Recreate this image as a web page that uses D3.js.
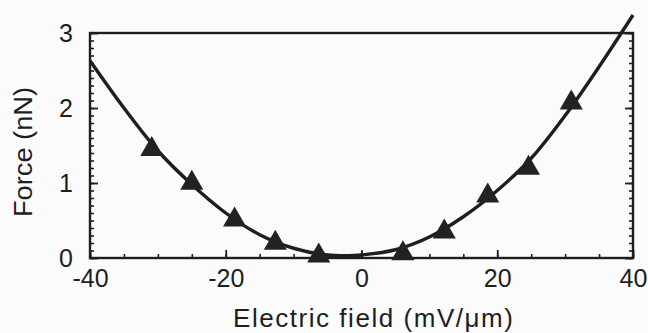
<!DOCTYPE html>
<html>
<head>
<meta charset="utf-8">
<script src="https://cdn.jsdelivr.net/npm/d3@7"></script>
<style>
  html, body { margin: 0; padding: 0; background: #fbfbfb; }
  svg { display: block; }
  text { font-family: "Liberation Sans", Arial, sans-serif; fill: #1e1e1e; }
</style>
</head>
<body>
<div id="chart"></div>
<script>
// measured points (triangles)
const fieldPts = [-30.9, -25, -18.7, -12.7, -6.3, 6.1, 12.2, 18.6, 24.6, 30.9];
const forcePts = [1.45, 1.0, 0.51, 0.2, 0.03, 0.06, 0.35, 0.83, 1.2, 2.07];

// fitted curve
const fitField = [-40, -35, -30, -25, -20, -15, -10, -5, -2, 0, 5, 10, 15, 20, 25, 30, 35, 40];
const fitForce = [2.63, 2.0, 1.43, 0.98, 0.6, 0.31, 0.13, 0.04, 0.03, 0.04, 0.11, 0.28, 0.55, 0.9, 1.33, 1.9, 2.55, 3.24];

const xTicks = [-40, -20, 0, 20, 40];
const yTicks = [0, 1, 2, 3];

const W = 648, H = 333;
const margin = { left: 90, top: 33, right: 15, bottom: 75 };
const width = W - margin.left - margin.right;
const height = H - margin.top - margin.bottom;

const svg = d3.select('div#chart').append('svg')
  .attr('width', W)
  .attr('height', H);

const chart = svg.append('g')
  .attr('transform', `translate(${margin.left}, ${margin.top})`);

const x = d3.scaleLinear().domain([-40, 40]).range([0, width]);
const y = d3.scaleLinear().domain([0, 3]).range([height, 0]);

// plain hyphen minus like the original
const fmt = d => String(d);

// minor ticks, all pointing inward
const xMinor = d3.range(-40, 40.01, 5);
const yMinor = d3.range(0, 3.001, 0.1);

chart.append('g')
  .attr('transform', `translate(0, ${height})`)
  .call(d3.axisBottom(x).tickValues(xMinor).tickSize(-4).tickFormat(''))
  .call(g => g.select('.domain').remove())
  .call(g => g.selectAll('line').attr('stroke', '#1e1e1e').attr('stroke-width', 1.6));

chart.append('g')
  .attr('transform', `translate(0, ${height})`)
  .call(d3.axisBottom(x).tickValues(xTicks).tickSize(-8).tickPadding(11).tickFormat(fmt))
  .call(g => g.select('.domain').remove())
  .call(g => g.selectAll('line').attr('stroke', '#1e1e1e').attr('stroke-width', 1.8))
  .call(g => g.selectAll('text').attr('font-size', 25).attr('fill', '#1e1e1e'));

chart.append('g')
  .call(d3.axisLeft(y).tickValues(yMinor).tickSize(-4).tickFormat(''))
  .call(g => g.select('.domain').remove())
  .call(g => g.selectAll('line').attr('stroke', '#1e1e1e').attr('stroke-width', 1.6));

chart.append('g')
  .call(d3.axisLeft(y).tickValues(yTicks).tickSize(-8).tickPadding(17).tickFormat(fmt))
  .call(g => g.select('.domain').remove())
  .call(g => g.selectAll('line').attr('stroke', '#1e1e1e').attr('stroke-width', 1.8))
  .call(g => g.selectAll('text').attr('font-size', 25).attr('fill', '#1e1e1e'));

chart.append('g')
  .attr('transform', `translate(${width}, 0)`)
  .call(d3.axisRight(y).tickValues(yMinor).tickSize(-4).tickFormat(''))
  .call(g => g.select('.domain').remove())
  .call(g => g.selectAll('line').attr('stroke', '#1e1e1e').attr('stroke-width', 1.6));

chart.append('g')
  .attr('transform', `translate(${width}, 0)`)
  .call(d3.axisRight(y).tickValues(yTicks).tickSize(-8).tickFormat(''))
  .call(g => g.select('.domain').remove())
  .call(g => g.selectAll('line').attr('stroke', '#1e1e1e').attr('stroke-width', 1.8));

// frame
chart.append('rect')
  .attr('x', 0).attr('y', 0)
  .attr('width', width).attr('height', height)
  .attr('fill', 'none')
  .attr('stroke', '#1e1e1e')
  .attr('stroke-width', 2.4);

// fitted curve
const fit = fitField.map((f, i) => ({ f: f, F: fitForce[i] }));
const line = d3.line()
  .x(d => x(d.f))
  .y(d => y(d.F))
  .curve(d3.curveCatmullRom);

chart.append('path')
  .datum(fit)
  .attr('d', line)
  .attr('fill', 'none')
  .attr('stroke', '#1e1e1e')
  .attr('stroke-width', 3.4);

// triangles
const pts = fieldPts.map((f, i) => ({ f: f, F: forcePts[i] }));
chart.selectAll('path.pt')
  .data(pts)
  .enter()
  .append('path')
  .attr('class', 'pt')
  .attr('d', d3.symbol().type(d3.symbolTriangle).size(230))
  .attr('transform', d => `translate(${x(d.f)}, ${y(d.F)})`)
  .attr('fill', '#222');

// axis titles
svg.append('text')
  .attr('x', 373)
  .attr('y', 327)
  .attr('text-anchor', 'middle')
  .attr('font-size', 26)
  .attr('textLength', 280)
  .text('Electric field (mV/\u03bcm)');

svg.append('text')
  .attr('transform', 'translate(32, 152) rotate(-90)')
  .attr('text-anchor', 'middle')
  .attr('font-size', 26)
  .attr('textLength', 130)
  .attr('lengthAdjust', 'spacingAndGlyphs')
  .text('Force (nN)');
</script>
</body>
</html>
